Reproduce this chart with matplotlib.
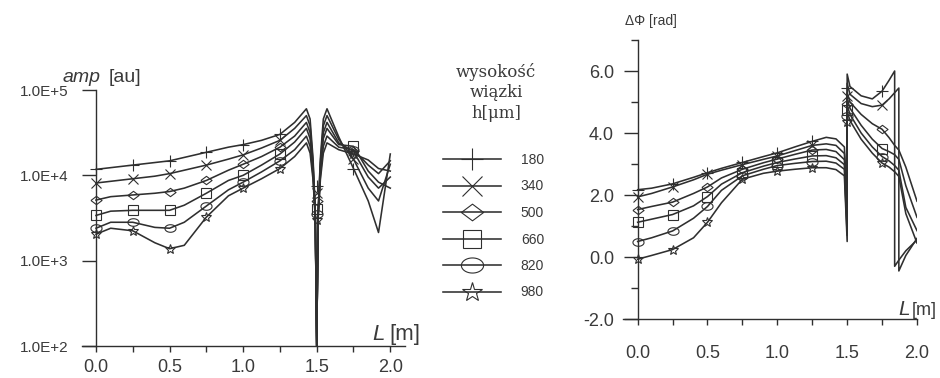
import numpy as np
import matplotlib
matplotlib.use("Agg")
import matplotlib.pyplot as plt
from matplotlib.ticker import FixedLocator, MultipleLocator, FormatStrFormatter, NullLocator

plt.rcParams['font.family'] = ['Liberation Sans', 'DejaVu Sans']

# ===== data =====
beam_heights = ["180", "340", "500", "660", "820", "980"]   # h [um]

# left panel: amplitude (log10 of amp [au]) vs L [m]
L_amp = [0, 0.1, 0.25, 0.4, 0.5, 0.6, 0.75, 0.9, 1.0, 1.125, 1.25, 1.35, 1.43, 1.455,
         1.475, 1.49, 1.5, 1.51, 1.525, 1.545, 1.57, 1.65, 1.75, 1.85, 1.92, 2.0]
amp_180 = [4.07, 4.09, 4.12, 4.15, 4.17, 4.21, 4.27, 4.33, 4.36, 4.41, 4.48, 4.62, 4.78, 4.66,
           4.20, 3.60, 2.0, 3.60, 4.20, 4.66, 4.78, 4.45, 4.08, 3.70, 3.33, 4.25]
amp_340 = [3.91, 3.93, 3.96, 3.99, 4.02, 4.06, 4.12, 4.19, 4.24, 4.32, 4.41, 4.55, 4.70, 4.58,
           4.15, 3.58, 2.0, 3.58, 4.15, 4.58, 4.70, 4.42, 4.19, 3.85, 3.70, 4.13]
amp_500 = [3.71, 3.75, 3.77, 3.79, 3.81, 3.85, 3.94, 4.06, 4.13, 4.22, 4.33, 4.46, 4.62, 4.50,
           4.10, 3.56, 2.0, 3.56, 4.10, 4.50, 4.62, 4.38, 4.28, 3.98, 3.85, 3.98]
amp_660 = [3.53, 3.58, 3.59, 3.59, 3.59, 3.65, 3.79, 3.94, 4.00, 4.12, 4.25, 4.39, 4.55, 4.43,
           4.05, 3.54, 2.0, 3.54, 4.05, 4.43, 4.55, 4.36, 4.34, 4.05, 3.92, 3.85]
amp_820 = [3.38, 3.45, 3.45, 3.39, 3.38, 3.45, 3.64, 3.83, 3.92, 4.04, 4.17, 4.30, 4.46, 4.34,
           4.00, 3.52, 2.0, 3.52, 4.00, 4.34, 4.46, 4.33, 4.30, 4.12, 4.02, 4.17]
amp_980 = [3.31, 3.38, 3.35, 3.21, 3.14, 3.18, 3.51, 3.76, 3.85, 3.96, 4.08, 4.22, 4.38, 4.26,
           3.95, 3.50, 2.0, 3.50, 3.95, 4.26, 4.38, 4.30, 4.25, 4.18, 4.08, 4.05]
amp_marks_15 = [3.88, 3.79, 3.70, 3.61, 3.55, 3.48]   # markers sitting on the dip at L=1.5

# right panel: phase difference [rad] vs L [m]
L_phase = [0, 0.1, 0.25, 0.4, 0.5, 0.6, 0.75, 0.9, 1.0, 1.125, 1.25, 1.35, 1.42, 1.48,
           1.5, 1.5, 1.52, 1.6, 1.68, 1.75, 1.8, 1.84, 1.84, 1.87, 1.87, 1.92, 2.0]
ph_180 = [2.17, 2.22, 2.36, 2.57, 2.72, 2.86, 3.05, 3.24, 3.36, 3.55, 3.73, 3.86, 3.81, 3.55,
          1.8, 5.9, 5.5, 5.2, 5.1, 5.35, 5.7, 6.0, -0.3, -0.1, -0.1, 0.2, 0.55]
ph_340 = [1.94, 2.05, 2.26, 2.49, 2.67, 2.80, 2.98, 3.15, 3.26, 3.43, 3.60, 3.65, 3.60, 3.34,
          1.5, 5.6, 5.25, 4.95, 4.85, 4.9, 5.1, 5.3, 5.3, 5.45, -0.45, 0.05, 0.6]
ph_500 = [1.53, 1.63, 1.77, 2.05, 2.26, 2.55, 2.83, 3.04, 3.16, 3.31, 3.45, 3.47, 3.40, 3.14,
          1.2, 5.3, 5.0, 4.6, 4.3, 4.12, 3.85, 3.6, 3.6, 3.45, 3.45, 2.9, 1.8]
ph_660 = [1.12, 1.22, 1.37, 1.65, 1.95, 2.35, 2.72, 2.93, 3.05, 3.16, 3.26, 3.27, 3.20, 2.98,
          0.9, 5.1, 4.8, 4.25, 3.8, 3.5, 3.4, 3.3, 3.3, 3.15, 3.15, 2.3, 1.28]
ph_820 = [0.50, 0.62, 0.84, 1.25, 1.63, 2.15, 2.62, 2.83, 2.95, 3.02, 3.08, 3.09, 3.03, 2.83,
          0.7, 4.9, 4.6, 4.0, 3.55, 3.24, 3.1, 2.95, 2.95, 2.8, 2.8, 1.6, 0.85]
ph_980 = [-0.07, 0.05, 0.24, 0.62, 1.12, 1.75, 2.51, 2.70, 2.77, 2.83, 2.88, 2.88, 2.82, 2.62,
          0.5, 4.7, 4.4, 3.8, 3.35, 3.03, 2.9, 2.75, 2.75, 2.6, 2.6, 1.4, 0.45]
ph_marks_15 = [5.45, 5.2, 4.95, 4.75, 4.55, 4.35]

mark_L = [0, 0.25, 0.5, 0.75, 1.0, 1.25, 1.75]

amp_ticks = [1e2, 1e3, 1e4, 1e5]
amp_tick_labels = ["1.0E+2", "1.0E+3", "1.0E+4", "1.0E+5"]

# ===== styles =====
ink = "#2f2f2f"
txt = "#3a3a3a"
t = np.linspace(0, 2 * np.pi, 40)
ellipse = list(zip(np.cos(t), 0.68 * np.sin(t)))
diamond = [(-1, 0), (0, 0.75), (1, 0), (0, -0.75), (-1, 0)]
markers = ["+", "x", diamond, "s", ellipse, "*"]
msizes = [8, 7, 8, 6.5, 8, 7.5]

amp_series = [amp_180, amp_340, amp_500, amp_660, amp_820, amp_980]
ph_series = [ph_180, ph_340, ph_500, ph_660, ph_820, ph_980]

fig = plt.figure(figsize=(9.4, 3.78), dpi=100)
W, H = 940, 378


def px_axes(x0, y0, x1, y1):
    return fig.add_axes([x0 / W, 1 - y1 / H, (x1 - x0) / W, (y1 - y0) / H])


def style_axes(ax):
    ax.spines['top'].set_visible(False)
    ax.spines['right'].set_visible(False)
    ax.spines['left'].set_position(('data', 0))
    for s in ('left', 'bottom'):
        ax.spines[s].set_color(ink)
        ax.spines[s].set_linewidth(1.0)
    ax.set_facecolor("none")


# ===== left: amplitude =====
ax1 = px_axes(82, 90, 405, 346)
ax1.set_yscale('log')
lines = []
for i, vals in enumerate(amp_series):
    idx = [L_amp.index(v) for v in mark_L]
    ln, = ax1.plot(L_amp, 10 ** np.array(vals), color=ink, lw=1.15,
                   marker=markers[i], markevery=idx, ms=msizes[i],
                   mfc='none', mec=ink, mew=0.8)
    ax1.plot([1.5], [10 ** amp_marks_15[i]], ls='none', marker=markers[i],
             ms=msizes[i], mfc='none', mec=ink, mew=0.8)
    lines.append(ln)
ax1.set_xlim(-0.095, 2.1)
ax1.set_ylim(1e2, 1e5)
style_axes(ax1)
ax1.yaxis.set_major_locator(FixedLocator(amp_ticks))
ax1.set_yticklabels(amp_tick_labels)
ax1.yaxis.set_minor_locator(NullLocator())
ax1.xaxis.set_major_locator(MultipleLocator(0.5))
ax1.xaxis.set_minor_locator(MultipleLocator(0.25))
ax1.xaxis.set_major_formatter(FormatStrFormatter('%.1f'))
ax1.tick_params(axis='y', which='major', length=10, width=1, color=ink,
                labelsize=11, labelcolor=txt, pad=10)
ax1.tick_params(axis='x', which='both', length=4, width=1, color=ink,
                labelsize=13, labelcolor=txt, pad=5)

# ===== right: phase =====
ax2 = px_axes(623, 40, 917, 319)
for i, vals in enumerate(ph_series):
    idx = [L_phase.index(v) for v in mark_L]
    ax2.plot(L_phase, vals, color=ink, lw=1.15, marker=markers[i], markevery=idx,
             ms=msizes[i], mfc='none', mec=ink, mew=0.8)
    ax2.plot([1.5], [ph_marks_15[i]], ls='none', marker=markers[i],
             ms=msizes[i], mfc='none', mec=ink, mew=0.8)
ax2.set_xlim(-0.105, 2.0)
ax2.set_ylim(-2, 7)
style_axes(ax2)
ax2.yaxis.set_major_locator(FixedLocator([-2, 0, 2, 4, 6]))
ax2.yaxis.set_minor_locator(FixedLocator([-1, 1, 3, 5, 7]))
ax2.yaxis.set_major_formatter(FormatStrFormatter('%.1f'))
ax2.xaxis.set_major_locator(MultipleLocator(0.5))
ax2.xaxis.set_minor_locator(MultipleLocator(0.25))
ax2.xaxis.set_major_formatter(FormatStrFormatter('%.1f'))
ax2.tick_params(axis='y', which='major', length=10, width=1, color=ink,
                labelsize=13, labelcolor=txt, pad=7)
ax2.tick_params(axis='y', which='minor', length=5, width=1, color=ink)
ax2.tick_params(axis='x', which='both', length=4, width=1, color=ink,
                labelsize=13, labelcolor=txt, pad=15)

# ===== axis titles =====
fig.text(63 / W, 1 - 82 / H, "amp", fontsize=14, style='italic', color=txt, va='baseline')
fig.text(109 / W, 1 - 82 / H, "[au]", fontsize=14, color=txt, va='baseline')
fig.text(372 / W, 1 - 340 / H, "L", fontsize=16, style='italic', color=txt, va='baseline')
fig.text(389 / W, 1 - 340 / H, "[m]", fontsize=16, color=txt, va='baseline')
fig.text(898 / W, 1 - 315 / H, "L", fontsize=15, style='italic', color=txt, va='baseline')
fig.text(912 / W, 1 - 315 / H, "[m]", fontsize=13, color=txt, va='baseline')
fig.text(625 / W, 1 - 25 / H, "ΔΦ [rad]", fontsize=10, color=txt, va='baseline')

# ===== legend =====
fig.text(496 / W, 1 - 63 / H, "wysokość\nwiązki\nh[μm]", ha='center', va='top',
         family='DejaVu Serif', fontsize=12, color=txt, linespacing=1.25)
fig.legend(lines, beam_heights, loc='upper left', bbox_to_anchor=(443 / W, 1 - 153 / H),
           frameon=False, fontsize=10, handlelength=4.2, handletextpad=1.4,
           labelspacing=0.9, markerscale=2.0, borderpad=0, borderaxespad=0,
           labelcolor=txt)

fig.savefig("out.png", dpi=100, facecolor="white")
